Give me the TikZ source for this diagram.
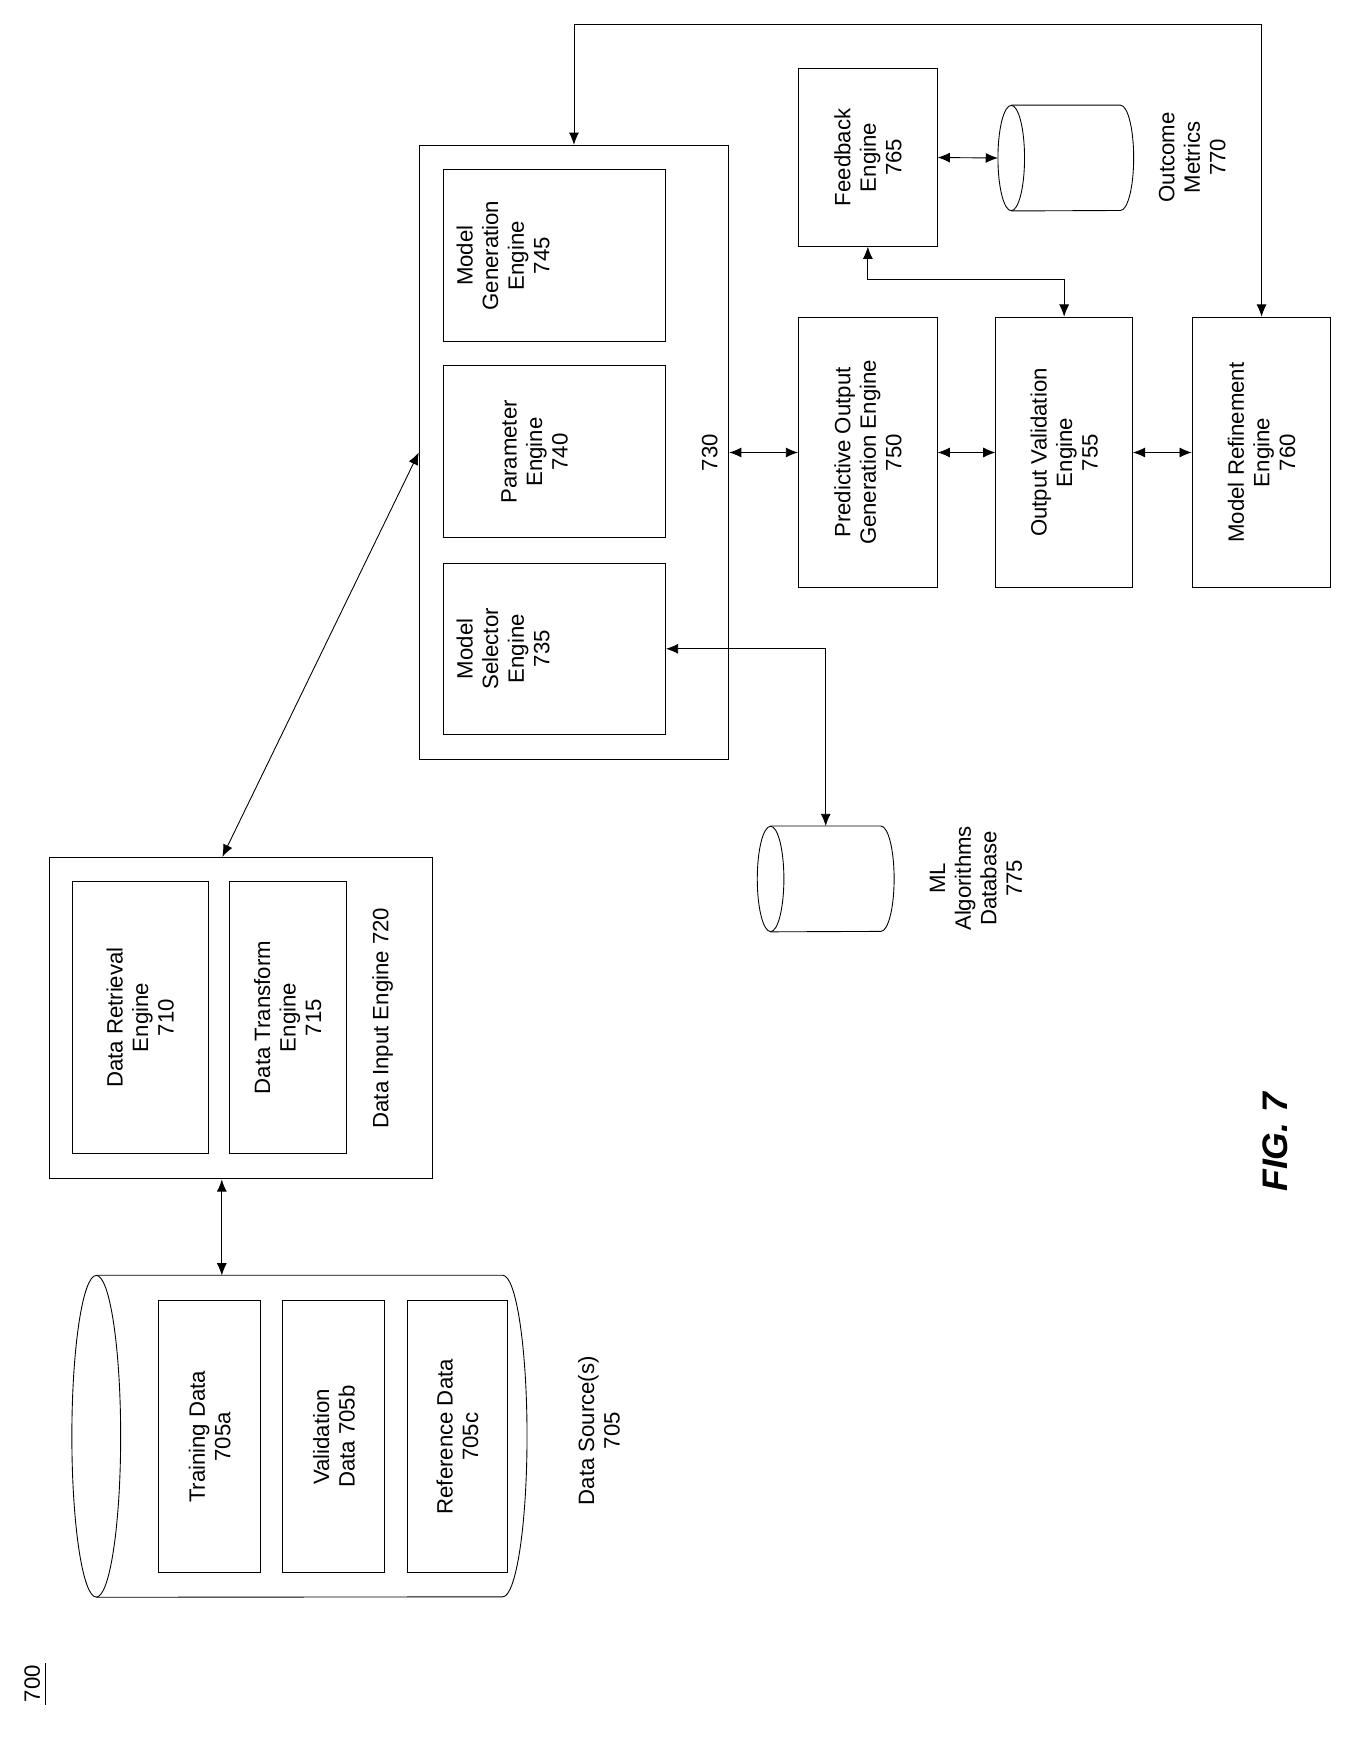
\documentclass[tikz,border=0pt]{standalone}
\usepackage{fontspec}
\setmainfont{Liberation Sans}
\usetikzlibrary{arrows.meta}
\begin{document}
\begin{tikzpicture}[x=1pt,y=1pt,
  every node/.style={font=\fontsize{20}{23}\selectfont, align=center},
  box/.style={draw, line width=0.9pt, rotate=90, inner sep=0pt},
  txt/.style={rotate=90, inner sep=2pt},
  ar/.style={line width=0.8pt, {Latex[length=11,width=9]}-{Latex[length=11,width=9]}},
  cyl/.style={line width=0.8pt}]
\useasboundingbox (0,0) rectangle (1220,-1568);
% main box 730
\node[box, minimum width=554, minimum height=279] (b730) at (517.5,-408) {};
\node[box, minimum width=155, minimum height=200] (b745) at (500,-230.5) {};
\node[box, minimum width=155, minimum height=200] (b740) at (500,-407.5) {};
\node[box, minimum width=154, minimum height=200] (b735) at (500,-585) {};
\node[txt, anchor=north] (t745) at ([xshift=10]b745.north) {Model\\Generation\\Engine\\745};
\node[txt] (t740) at (482,-407.5) {Parameter\\Engine\\740};
\node[txt, anchor=north] (t735) at ([xshift=10]b735.north) {Model\\Selector\\Engine\\735};
\node[txt] (t730) at (640,-408) {730};
% right column
\node[box, minimum width=244, minimum height=125] (b750) at (782.5,-408) {};
\node[txt] at (b750) {Predictive Output\\Generation Engine\\750};
\node[box, minimum width=244, minimum height=123] (b755) at (959.5,-408) {};
\node[txt] at (b755) {Output Validation\\Engine\\755};
\node[box, minimum width=244, minimum height=125] (b760) at (1137.5,-408) {};
\node[txt] at (b760) {Model Refinement\\Engine\\760};
\node[box, minimum width=160, minimum height=125] (b765) at (782.5,-142) {};
\node[txt] at (b765) {Feedback\\Engine\\765};
% outcome cylinder
\node[minimum width=122, minimum height=95, inner sep=0] (om) at (961,-142.5) {};
\draw[cyl] (om.north west)++(12,0) coordinate (o1);
\draw[cyl] ([xshift=12]om.west) ellipse (12 and 47.5);
\draw[cyl] ([xshift=12]om.north west) -- ([xshift=-12]om.north east) arc (90:-90:12 and 47.5) -- ([xshift=12]om.south west);
\node[txt] (lom) at (1075,-142) {Outcome\\Metrics\\770};
% ML cylinder
\node[minimum width=123, minimum height=95, inner sep=0] (ml) at (744.5,-792.5) {};
\draw[cyl] ([xshift=12]ml.west) ellipse (12 and 47.5);
\draw[cyl] ([xshift=12]ml.north west) -- ([xshift=-12]ml.north east) arc (90:-90:12 and 47.5) -- ([xshift=12]ml.south west);
\node[txt] (lml) at (880,-792) {ML\\Algorithms\\Database\\775};
% data input engine
\node[box, minimum width=290, minimum height=345] (b720) at (217.5,-918) {};
\node[box, minimum width=245, minimum height=123] (b710) at (126.5,-917.5) {};
\node[txt] at (b710) {Data Retrieval\\Engine\\710};
\node[box, minimum width=245, minimum height=105] (b715) at (259.5,-917.5) {};
\node[txt] at (b715) {Data Transform\\Engine\\715};
\node[txt] (l720) at (345,-918) {Data Input Engine 720};
% data source cylinder
\node[minimum width=410, minimum height=290, inner sep=0] (ds) at (270,-1295) {};
\draw[cyl] ([xshift=22]ds.west) ellipse (22 and 145);
\draw[cyl] ([xshift=22]ds.north west) -- ([xshift=-22]ds.north east) arc (90:-90:22 and 145) -- ([xshift=22]ds.south west);
\node[box, minimum width=245, minimum height=92] (b705a) at (189,-1295.5) {};
\node[txt] at (b705a) {Training Data\\705a};
\node[box, minimum width=245, minimum height=92] (b705b) at (301,-1295.5) {};
\node[txt] at (b705b) {Validation\\Data 705b};
\node[box, minimum width=245, minimum height=91] (b705c) at (412.5,-1295.5) {};
\node[txt] at (b705c) {Reference Data\\705c};
\node[txt] (l705) at (540,-1290) {Data Source(s)\\705};
% labels
\node[txt, font=\fontsize{32}{36}\selectfont\bfseries\itshape] (fig) at (1150,-1030) {FIG. 7};
\node[txt] (n700) at (29,-1518) {700};
\draw[line width=0.8pt] ([xshift=3]n700.south west) -- ([xshift=3]n700.south east);
% connectors
\coordinate (loopc) at (800,-22);
\coordinate (fvc) at (870,-252);
\coordinate (dsa) at (200,-1150);
\draw[ar] (b730.east) |- (loopc) -| (b760.east);
\draw[ar] (b765.west) |- (fvc) -| (b755.east);
\draw[ar] (b765.south) -- (om.west);
\draw[ar] (b730.south) -- (b750.north);
\draw[ar] (b750.south) -- (b755.north);
\draw[ar] (b755.south) -- (b760.north);
\draw[ar] (b735.south) -| (ml.north);
\draw[ar] (b730.north) -- ([xshift=-17]b720.east);
\draw[ar] (dsa |- b720.west) -- (dsa);
\end{tikzpicture}
\end{document}
